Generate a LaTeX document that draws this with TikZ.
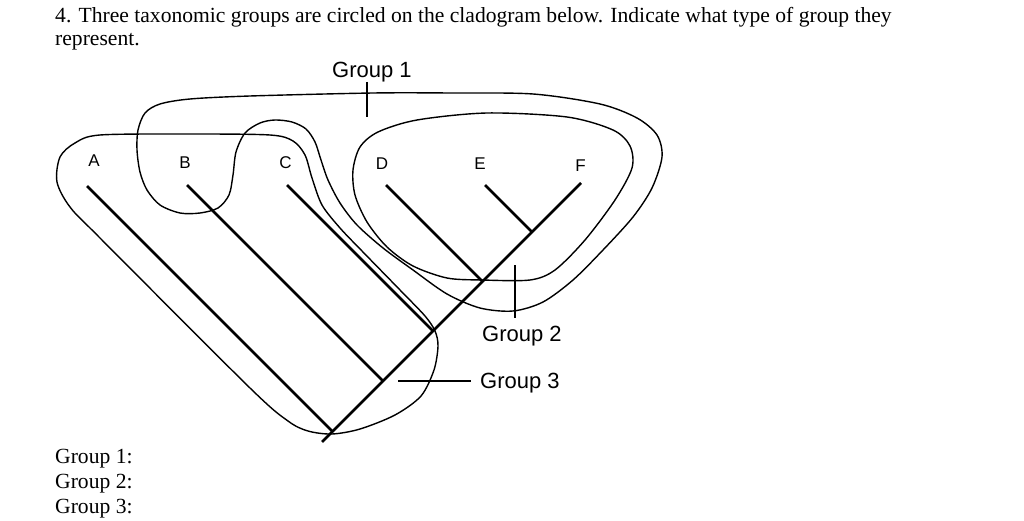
\documentclass[tikz,border=0pt]{standalone}
\usepackage{fontspec}
\setmainfont{Liberation Serif}
\newfontfamily\lsans{Liberation Sans}
\begin{document}
\begin{tikzpicture}[x=1pt,y=-1pt,
  branch/.style={line width=2.8pt, line cap=butt},
  loopline/.style={line width=1.4pt, line join=round},
  tickline/.style={line width=1.4pt},
  taxon/.style={font=\lsans\fontsize{17}{18}\selectfont, inner sep=0pt, anchor=base},
  grouplabel/.style={font=\lsans\fontsize{22}{24}\selectfont, inner sep=0pt, anchor=base west},
  qtext/.style={font=\fontsize{21.6}{24}\selectfont, inner sep=0pt, anchor=base west}]
\useasboundingbox (0,0) rectangle (1024,521);

% question text
\node[qtext] (q1) at (55,23) {4. Three taxonomic groups are circled on the cladogram below. Indicate what type of group they};
\node[qtext] (q2) at (55,46) {represent.};
\node[qtext] (a1) at (55,463) {Group 1:};
\node[qtext] (a2) at (55,488) {Group 2:};
\node[qtext] (a3) at (55,513) {Group 3:};

% taxon labels
\node[taxon] (A) at (94,167) {A};
\node[taxon] (B) at (185,169) {B};
\node[taxon] (C) at (285.5,169) {C};
\node[taxon] (D) at (382,170) {D};
\node[taxon] (E) at (480,170) {E};
\node[taxon] (F) at (580.5,172) {F};

% cladogram coordinates
\coordinate (root) at (322,442);
\coordinate (tF) at (581,183);
\coordinate (tA) at (87,186);   \coordinate (jA) at (332.5,431.5);
\coordinate (tB) at (187,185);  \coordinate (jB) at (383,381);
\coordinate (tC) at (287,185);  \coordinate (jC) at (433,331);
\coordinate (tD) at (386,185);  \coordinate (jD) at (482.5,281.5);
\coordinate (tE) at (485,185);  \coordinate (jE) at (532,232);

\draw[branch] (root) -- (tF);
\draw[branch] (tA) -- (jA);
\draw[branch] (tB) -- (jB);
\draw[branch] (tC) -- (jC);
\draw[branch] (tD) -- (jD);
\draw[branch] (tE) -- (jE);

% group 3 loop (A, B, C)
\draw[loopline] plot[smooth cycle, tension=0.5] coordinates {
 (100,135) (190,134) (270,135) (293,141) (305,155) (312,178) (322,205) (340,228)
 (362,251) (400,290) (425,316) (435,331) (438,346) (434,370) (421,396) (395,415)
 (360,429) (332,434) (308,431) (288,421) (250,388) (100,238) (70,207) (57,182)
 (60,157) (75,143)};

% group 1 loop (B, D, E, F)
\draw[loopline] plot[smooth cycle, tension=0.5] coordinates {
 (373,93) (250,96) (190,99) (160,104) (145,113) (138,130) (137,150) (140,172)
 (147,190) (160,205) (180,213) (200,213) (218,208) (229,195) (233,175) (236,152)
 (245,133) (260,123) (275,120) (292,122) (306,129) (315,142) (321,160) (328,180)
 (340,203) (357,225) (383,248) (413,270) (447,294) (480,308) (513,311) (543,302)
 (573,280) (603,250) (633,217) (652,188) (662,157) (657,135) (637,118) (600,104)
 (533,94) (450,93)};

% group 2 loop (D, E, F)
\draw[loopline] plot[smooth cycle, tension=0.5] coordinates {
 (487,113) (417,120) (378,132) (360,147) (353,170) (355,195) (367,222) (387,247)
 (413,266) (447,278) (482,280) (530,280) (555,270) (585,240) (615,200) (632,168)
 (630,146) (613,130) (567,117)};

% group labels and ticks
\node[grouplabel] (G1) at (332,78) {Group 1};
\node[grouplabel] (G2) at (482,341) {Group 2};
\node[grouplabel] (G3) at (480,388) {Group 3};
\coordinate (k1a) at (367,82);  \coordinate (k1b) at (367,117);
\coordinate (k2a) at (515,265); \coordinate (k2b) at (515,318);
\coordinate (k3a) at (398,381); \coordinate (k3b) at (471,381);
\draw[tickline] (k1a) -- (k1b);
\draw[tickline] (k2a) -- (k2b);
\draw[tickline] (k3a) -- (k3b);
\end{tikzpicture}
\end{document}
